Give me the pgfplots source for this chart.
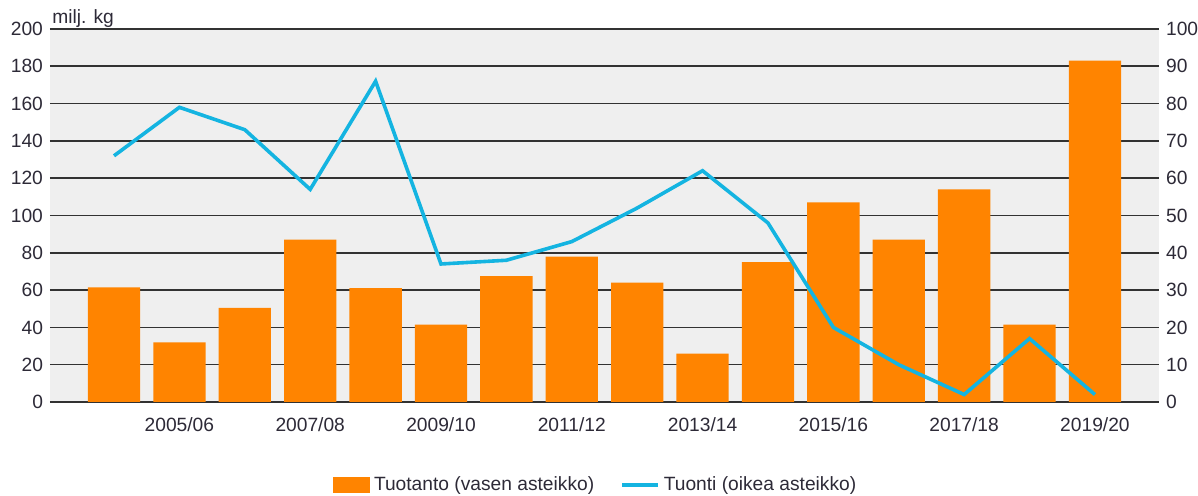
\documentclass[border=0pt]{standalone}
\usepackage{fontspec}
\setmainfont{Liberation Sans}
\usepackage{pgfplots}
\pgfplotsset{compat=1.18}
\definecolor{barC}{RGB}{255,132,0}
\definecolor{lineC}{RGB}{20,180,225}
\definecolor{bgC}{RGB}{239,239,239}
\definecolor{gridC}{RGB}{50,50,50}
\definecolor{textC}{RGB}{45,42,55}
\newcommand{\tf}{\fontsize{9.6pt}{11pt}\selectfont}
\begin{document}
\begin{tikzpicture}
\useasboundingbox (-25pt,-47pt) rectangle (574pt,201pt);
\pgfplotsset{
  every axis/.append style={
    width=554.5pt, height=186.5pt, scale only axis,
    xmin=-0.979, xmax=15.98,
    axis line style={draw=none},
    major tick length=0pt,
    tick label style={font=\tf, text=textC},
    /pgf/number format/assume math mode=true,
  }
}
\begin{axis}[
  name=ax1,
  ymin=0, ymax=200,
  ytick={0,20,...,200},
  ytick pos=left,
  ymajorgrids,
  major grid style={draw=gridC, line width=0.8pt},
  axis background/.style={fill=bgC},
  xtick={1,3,5,7,9,11,13,15},
  xticklabels={2005/06,2007/08,2009/10,2011/12,2013/14,2015/16,2017/18,2019/20},
  xtick pos=bottom,
  xticklabel style={yshift=-4.5pt},
  ybar, bar width=0.8,
]
\addplot[fill=barC, draw=none] coordinates {
(0,61.5) (1,32) (2,50.5) (3,87) (4,61) (5,41.5) (6,67.5) (7,78)
(8,64) (9,26) (10,75) (11,107) (12,87) (13,114) (14,41.5) (15,183)
};
\end{axis}
\node[anchor=base west, inner sep=0pt, font=\tf, text=textC] at ([xshift=1pt,yshift=2.5pt]ax1.north west) {milj. kg};
\begin{axis}[
  ymin=0, ymax=100,
  ytick={0,10,...,100},
  yticklabel pos=right,
  ytick pos=right,
  xtick=\empty,
  legend columns=2,
  legend style={at={(0.493,-0.2225)}, anchor=center, draw=none, fill=none,
    font=\tf, text=textC, inner sep=0pt,
    /tikz/every even column/.append style={column sep=11pt}},
]
\addlegendimage{legend image code/.code={\fill[barC] (0pt,-3.75pt) rectangle (18pt,3.75pt);}}
\addlegendentry{Tuotanto (vasen asteikko)}
\addplot[draw=lineC, line width=1.8pt, mark=none, line join=miter,
  legend image code/.code={\draw[lineC, line width=1.8pt] (0pt,0pt) -- (18pt,0pt);}] coordinates {
(0,66) (1,79) (2,73) (3,57) (4,86) (5,37) (6,38) (7,43)
(8,52) (9,62) (10,48) (11,20) (12,10) (13,2) (14,17) (15,2)
};
\addlegendentry{Tuonti (oikea asteikko)}
\end{axis}
\end{tikzpicture}
\end{document}
